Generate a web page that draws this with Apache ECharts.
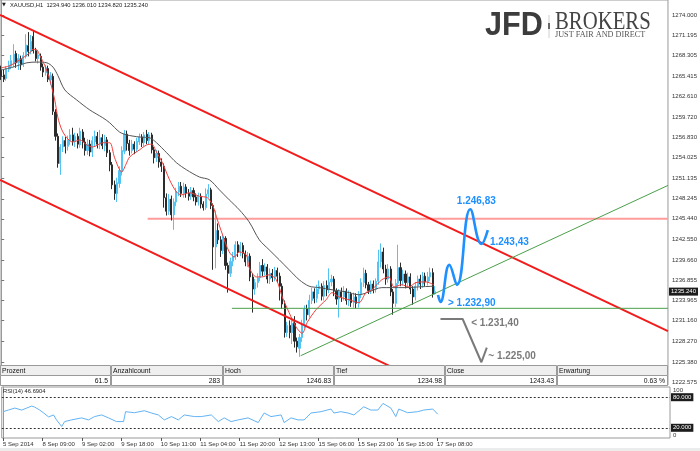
<!DOCTYPE html>
<html><head><meta charset="utf-8">
<script src="https://cdn.jsdelivr.net/npm/echarts@6/dist/echarts.min.js"></script>
<style>html,body{margin:0;padding:0;background:#fff}#c{width:700px;height:451px}</style>
</head><body><div id="c"></div>
<script>
// ---------------- DATA ----------------
const symbolName = 'XAUUSD,H1';
const opens = [
1266.3,1265.6,1265.1,1266.4,1266.8,1267.2,1268.6,1267.3,1267.8,1267.0,
1268.2,1269.7,1268.9,1271.0,1269.0,1267.9,1268.2,1266.7,1265.9,1266.5,
1264.9,1265.4,1260.4,1257.0,1253.2,1255.5,1256.4,1255.6,1256.4,1257.2,
1256.3,1257.0,1255.8,1257.6,1256.2,1255.0,1255.9,1254.8,1256.2,1257.0,
1255.9,1256.8,1255.7,1256.5,1254.7,1253.0,1250.2,1249.0,1250.4,1252.1,
1254.9,1257.3,1256.0,1255.0,1255.9,1255.2,1256.2,1256.9,1256.1,1257.3,
1256.4,1257.2,1255.1,1254.0,1254.6,1253.4,1252.8,1248.4,1246.5,1248.2,
1246.0,1247.8,1249.2,1250.0,1249.0,1249.9,1249.0,1248.6,1249.4,1248.5,
1247.8,1248.6,1247.5,1247.0,1248.9,1249.5,1247.3,1241.5,1243.8,1242.5,
1241.0,1242.7,1238.9,1237.8,1239.5,1240.1,1241.8,1240.8,1241.7,1240.6,
1239.4,1240.2,1237.3,1235.6,1236.5,1237.2,1238.9,1238.1,1238.7,1237.0,
1237.8,1237.2,1238.2,1237.4,1236.0,1233.5,1229.5,1230.5,1229.5,1230.8,
1228.3,1227.3,1228.8,1230.6,1232.8,1232.0,1234.0,1235.2,1234.3,1235.6,
1236.0,1234.6,1236.1,1235.5,1236.6,1237.0,1235.3,1234.2,1235.2,1234.5,
1235.3,1234.0,1234.9,1233.7,1234.5,1233.6,1234.8,1236.5,1237.8,1236.2,
1235.4,1236.3,1235.6,1236.7,1239.4,1240.8,1238.4,1237.0,1238.4,1235.2,
1233.6,1236.4,1238.6,1236.8,1237.7,1236.5,1237.3,1235.6,1234.5,1236.0,
1237.0,1236.3,1237.4,1236.6,1237.3,1237.9,1234.94];
const closes = [
1265.4,1265.0,1266.4,1267.0,1267.6,1268.5,1267.3,1267.9,1267.0,1268.3,
1269.8,1268.9,1270.3,1269.0,1267.9,1268.4,1266.7,1266.0,1266.6,1265.0,
1265.5,1260.5,1257.0,1253.2,1255.5,1256.4,1255.6,1256.5,1257.2,1256.3,
1257.0,1255.9,1257.7,1256.2,1255.0,1255.9,1254.8,1256.4,1257.0,1255.9,
1256.8,1255.7,1256.5,1254.7,1253.0,1250.2,1249.0,1250.5,1252.2,1255.0,
1257.3,1256.0,1255.0,1255.9,1255.2,1256.3,1256.9,1256.1,1257.2,1256.4,
1257.2,1255.1,1254.0,1254.6,1253.4,1252.8,1248.4,1246.5,1248.2,1246.0,
1247.8,1249.3,1250.0,1249.0,1249.9,1249.0,1248.6,1249.4,1248.5,1247.8,
1248.6,1247.5,1247.0,1248.9,1249.5,1247.3,1241.5,1243.8,1242.5,1241.0,
1242.7,1238.9,1237.8,1239.5,1240.2,1241.8,1240.8,1241.7,1240.6,1239.4,
1240.2,1237.3,1235.6,1236.5,1237.2,1238.9,1238.1,1238.7,1237.0,1237.8,
1237.2,1238.2,1237.4,1236.0,1233.5,1229.5,1230.5,1229.5,1230.8,1228.3,
1227.5,1228.8,1230.7,1232.8,1232.0,1234.0,1235.2,1234.3,1235.6,1236.0,
1234.6,1236.1,1235.5,1236.6,1237.0,1235.3,1234.2,1235.2,1234.5,1235.3,
1234.0,1234.9,1233.7,1234.5,1233.6,1234.8,1236.5,1237.8,1236.2,1235.4,
1236.3,1235.6,1236.7,1239.4,1240.8,1238.4,1237.0,1238.4,1235.2,1233.6,
1236.4,1238.6,1236.8,1237.7,1236.5,1237.3,1235.6,1234.5,1236.0,1237.0,
1236.3,1237.4,1236.6,1237.3,1237.9,1234.9,1235.24];
const lows = [
1264.9,1264.6,1264.8,1266.0,1266.4,1266.7,1266.6,1266.3,1266.3,1266.7,
1267.9,1268.2,1268.5,1268.6,1267.5,1267.2,1266.2,1265.3,1265.5,1264.6,
1264.2,1260.0,1256.4,1252.6,1251.6,1254.8,1254.6,1255.0,1255.8,1255.7,
1255.5,1255.3,1255.4,1255.3,1254.3,1254.4,1254.2,1254.1,1255.6,1255.3,
1255.2,1255.2,1254.9,1254.1,1252.1,1249.6,1248.1,1247.8,1249.8,1251.5,
1254.5,1255.0,1254.3,1254.6,1254.5,1254.8,1255.8,1255.5,1255.6,1255.9,
1255.9,1254.6,1253.2,1253.4,1252.6,1252.0,1247.0,1245.9,1246.0,1245.2,
1243.9,1247.2,1248.6,1248.5,1248.4,1248.4,1248.0,1248.1,1247.9,1247.3,
1247.3,1246.9,1246.6,1246.7,1248.4,1246.8,1238.3,1238.5,1241.9,1240.1,
1240.5,1238.3,1235.1,1237.3,1238.8,1239.7,1240.1,1240.2,1239.9,1238.8,
1238.7,1236.7,1232.3,1234.8,1235.8,1236.7,1237.4,1237.5,1236.4,1236.3,
1236.6,1236.7,1236.5,1234.0,1232.8,1228.8,1228.9,1228.7,1227.9,1227.4,
1226.7,1226.1,1228.2,1230.1,1231.2,1231.6,1233.5,1233.6,1233.7,1234.9,
1234.0,1234.0,1234.6,1235.0,1236.0,1234.6,1233.4,1231.6,1233.8,1234.0,
1233.4,1233.2,1233.1,1233.0,1232.9,1233.0,1234.3,1235.9,1235.7,1234.9,
1234.9,1235.0,1235.1,1236.2,1238.6,1237.8,1236.2,1236.5,1234.6,1232.0,
1233.1,1235.9,1236.0,1236.1,1235.7,1235.9,1234.9,1233.4,1234.0,1235.4,
1235.6,1235.8,1236.0,1236.1,1236.7,1234.4,1234.82];
const highs = [
1266.9,1266.3,1266.8,1267.6,1268.4,1269.9,1269.0,1268.5,1268.3,1268.8,
1271.3,1271.6,1271.2,1271.8,1269.4,1268.9,1268.6,1267.2,1267.0,1266.9,
1266.0,1265.8,1260.8,1257.4,1255.9,1257.0,1256.9,1257.1,1258.0,1258.2,
1257.5,1257.4,1258.2,1258.0,1256.8,1256.6,1256.5,1257.0,1257.8,1257.6,
1257.9,1257.3,1257.2,1256.9,1255.1,1253.4,1250.8,1251.2,1252.8,1255.6,
1257.9,1257.8,1256.5,1256.5,1256.3,1256.8,1257.4,1257.3,1257.6,1257.9,
1257.6,1257.5,1255.5,1255.1,1255.0,1253.9,1253.2,1249.0,1248.9,1248.7,
1248.3,1249.8,1250.6,1250.6,1250.5,1250.3,1249.6,1249.9,1249.8,1249.0,
1249.1,1249.0,1247.9,1249.7,1250.3,1249.8,1247.6,1246.6,1244.8,1243.0,
1243.2,1243.0,1239.3,1240.0,1240.8,1242.3,1242.3,1242.2,1242.1,1241.0,
1240.8,1240.6,1237.8,1237.0,1237.8,1239.4,1239.8,1239.2,1239.1,1238.5,
1238.4,1238.7,1238.6,1237.9,1236.4,1234.0,1231.0,1231.2,1231.6,1231.8,
1228.8,1229.3,1231.3,1233.3,1233.4,1234.8,1235.8,1235.7,1236.2,1236.8,
1236.4,1236.7,1236.8,1238.5,1237.6,1237.4,1235.7,1235.6,1235.8,1236.0,
1235.7,1235.4,1235.2,1235.1,1235.0,1235.3,1237.1,1238.6,1238.3,1236.6,
1236.8,1236.8,1237.1,1241.1,1242.0,1241.4,1239.0,1239.1,1238.8,1235.6,
1237.0,1241.8,1239.3,1238.3,1238.2,1237.9,1237.8,1236.0,1236.6,1237.5,
1237.6,1238.0,1237.9,1238.0,1238.6,1238.5,1236.01];

// moving averages: [bar index, price]
const maFast = [[0,1266.6],[3.5,1266.9],[8.8,1268.0],[11.6,1268.7],[12.9,1269.2],[14.5,1269.1],[15.7,1268.3],[17.7,1266.9],[19.7,1264.9],[21.7,1262.1],[23,1259.6],[24.6,1257.9],[26.6,1256.8],[29,1256.2],[31.9,1256.5],[34.7,1255.8],[37.1,1255.5],[41.2,1256.1],[44,1256.1],[46,1254.0],[48.9,1252.0],[50.5,1253.0],[52.1,1254.1],[56.1,1255.1],[59,1255.8],[61,1255.9],[63,1254.8],[65.4,1253.3],[68.3,1250.9],[71.1,1249.2],[73.1,1248.8],[76.4,1249.1],[80.4,1248.6],[83.6,1248.4],[85.7,1247.4],[87.7,1245.3],[89.7,1243.3],[92.5,1240.8],[94.6,1240.1],[96.6,1240.8],[99.4,1240.4],[100.6,1238.6],[103.5,1237.3],[105.9,1237.3],[108.7,1237.6],[111.6,1236.9],[114,1234.5],[116.8,1232.3],[119.6,1230.3],[122.1,1229.4],[124.1,1230.9],[127.7,1232.7],[131.8,1234.1],[134.2,1235.1],[137,1234.5],[141.1,1234.1],[145.1,1233.7],[148,1235.1],[150.4,1235.5],[154.4,1236.9],[157.3,1237.3],[159.3,1235.9],[162.5,1236.2],[165.4,1235.9],[168.2,1236.5],[172.2,1236.6],[175.5,1236.2]];
const maSlow = [[0,1266.3],[4.8,1266.7],[10.4,1267.3],[14.5,1267.4],[18.5,1267.3],[21,1266.7],[23,1265.5],[25.8,1263.5],[30.6,1262.1],[35.9,1260.7],[41.2,1259.6],[44,1258.9],[48,1257.6],[50.9,1257.2],[56.1,1256.9],[60.2,1256.8],[63,1256.1],[67.1,1254.7],[71.1,1253.3],[75.2,1252.3],[80.4,1251.3],[84.5,1250.9],[88.5,1249.5],[92.5,1248.1],[96.6,1246.7],[100.6,1245.0],[104.7,1242.5],[108.7,1241.1],[112.8,1239.7],[116.8,1238.3],[120.9,1236.9],[124.9,1236.0],[129,1235.8],[134.2,1235.5],[139.9,1235.2],[145.1,1234.8],[149.2,1235.2],[154.4,1235.8],[158.5,1235.8],[164.1,1235.8],[169.4,1235.9],[175.5,1236.0]];

// drawn objects: [bar index, price]
const channelUpper = [[-0.5,1274.0],[270.5,1229.7]];
const channelLower = [[-0.5,1250.9],[161.3,1224.2]];
const resistanceLine = [[59.4,1245.44],[270.5,1245.44]];
const supportLine = [[93.6,1232.90],[270.5,1232.90]];
const trendUp = [[121.5,1226.26],[270.5,1250.12]];
const bluePath = [[177.2,1234.77],[178.2,1233.79],[181.8,1238.98],[184.9,1236.18],[190.3,1246.78],[194.8,1241.91],[197.4,1243.87]];
const blueTexts = {1:'> 1.232,90', 4:'1.246,83', 5:'1.243,43'};
const grayPath = [[178.2,1231.40],[187.2,1231.40],[194.8,1225.34],[197.0,1227.38]];
const grayTexts = {1:'< 1.231,40', 3:'~ 1.225,00'};

// RSI(14): [bar index, value]
const rsiPeriod = 14;
const rsiLast = 46.6904;
const rsiLevels = [80, 20];
const rsiPoints = [[0,51.6],[2.2,54.8],[4.8,58.7],[7.6,54.8],[9.6,58.7],[11.6,62.6],[12.8,60.7],[14.9,54.8],[16.5,49],[18.5,41.3],[20.5,45.2],[21.7,35.5],[23.8,22.6],[25,32.2],[27.8,35.5],[31.9,39.4],[34.7,35.5],[37.1,42],[40,45.2],[42.8,39.4],[46,32.2],[48.9,32.2],[49.7,51.6],[53.3,49.6],[57.3,53.5],[60.2,49],[63,45.2],[65.4,35.5],[68.3,42],[71.1,35.5],[73.5,45.2],[77.6,42],[80.4,42],[84.5,45.2],[87.3,32.2],[89.7,39.4],[92.5,32.2],[95.4,35.5],[99.4,39.4],[103.5,30.3],[105.9,49],[108.7,42],[112.8,45.2],[114,30.3],[116.8,39.4],[119.6,35.5],[122.1,35.5],[124.9,49],[129,51.6],[133,56.8],[134.2,49],[137,51.6],[139.9,49],[142.3,45.2],[146.3,61.2],[149.2,54.8],[152,54.8],[154.1,67.8],[157.3,58.7],[159.3,42],[160.5,56.8],[164.1,49.6],[168.2,51.6],[170.6,54.8],[174.3,56.8],[176.3,46.7]];

// axes
const slotCount = 271;           // bar slots across the chart width
const priceMax = 1276.10, priceMin = 1222.155;
const priceTicks = [1274.000,1271.195,1268.305,1265.415,1262.610,1259.720,1256.830,1254.025,1251.135,1248.245,1245.440,1242.550,1239.660,1236.855,1233.965,1231.160,1228.270,1225.380,1222.575];
const timeLabels = ['5 Sep 2014','8 Sep 09:00','9 Sep 02:00','9 Sep 18:00','10 Sep 11:00','11 Sep 04:00','11 Sep 20:00','12 Sep 13:00','15 Sep 06:00','15 Sep 23:00','16 Sep 15:00','17 Sep 08:00'];
const labelEvery = 16;

// table
const tableHeaders = ['Prozent','Anzahlcount','Hoch','Tief','Close','Erwartung'];
const tableValues = ['61.5','283','1246.83','1234.98','1243.43','0.63 %'];

// ---------------- CHART ----------------
const FONT = '"Liberation Sans", Arial, sans-serif';
const bull = '#52c3f3', bear = '#2b2b2b';
const slots = Array.from({length: slotCount}, (_, i) => String(i));
const last = opens.length - 1;
const candleData = opens.map((o, i) => [o, closes[i], lows[i], highs[i]]);
const showTime = (idx) => idx % labelEvery === 0 && idx / labelEvery < timeLabels.length;

function lineSeries(data, color, width, extra) {
  return Object.assign({
    type: 'line', xAxisIndex: 1, yAxisIndex: 0, data: data,
    symbol: 'none', silent: true, z: 5,
    lineStyle: {color: color, width: width}
  }, extra || {});
}
function labelled(path, texts, color, cfg) {
  return path.map((p, k) => {
    if (texts[k] === undefined) return {value: p};
    return {value: p, symbol: 'circle', symbolSize: 1, itemStyle: {color: 'rgba(0,0,0,0)'},
      label: Object.assign({show: true, formatter: texts[k], color: color, fontSize: 10, fontWeight: 'bold', fontFamily: FONT}, cfg[k])};
  });
}

const blueData = labelled(bluePath, blueTexts, '#1e90ff', {
  1: {position: 'right', distance: 7, offset: [0, 1]},
  4: {position: 'top', distance: 3, offset: [6, 0]},
  5: {position: 'right', distance: 8, offset: [0, -2]}
});
const grayData = labelled(grayPath, grayTexts, '#7a7a7a', {
  1: {position: 'right', distance: 8, offset: [0, 4]},
  3: {position: 'right', distance: 1, offset: [0, 9]}
});

const graphics = [];
graphics.push({type: 'rect', shape: {x: 0, y: 448, width: 700, height: 3}, style: {fill: '#ececec'}, z: 1});
// header
graphics.push({type: 'text', x: 2, y: 5, style: {text: '▼', font: '5px "DejaVu Sans"', fill: '#222', verticalAlign: 'middle'}, z: 100});
graphics.push({type: 'text', x: 10, y: 5, style: {
  text: symbolName + '  ' + [opens[last], highs[last], lows[last], closes[last]].map(v => v.toFixed(3)).join(' '),
  font: '5.8px ' + FONT, fill: '#222', verticalAlign: 'middle'}, z: 100});
// logo
graphics.push({type: 'text', x: 485, y: 26, scaleX: 0.9, style: {text: 'JFD', font: 'bold 34px ' + FONT, fill: '#3c3c3c', verticalAlign: 'middle'}, z: 100});
graphics.push({type: 'rect', shape: {x: 548.5, y: 15, width: 1, height: 23}, style: {fill: '#d0d0d0'}, z: 100});
graphics.push({type: 'rect', shape: {x: 548, y: 23, width: 2, height: 6}, style: {fill: '#666'}, z: 100});
graphics.push({type: 'text', x: 555, y: 22, scaleX: 0.83, style: {text: 'BROKERS', font: '25px "Liberation Serif", serif', fill: '#444', verticalAlign: 'middle'}, z: 100});
graphics.push({type: 'text', x: 555, y: 35, style: {text: 'JUST FAIR AND DIRECT', font: '8.2px "Liberation Serif", serif', fill: '#555', verticalAlign: 'middle'}, z: 100});
// table
const colW = 668 / tableHeaders.length;
tableHeaders.forEach((h, k) => {
  const x0 = Math.round(k * colW), x1 = Math.round((k + 1) * colW);
  graphics.push({type: 'rect', shape: {x: x0 + 0.5, y: 365.5, width: x1 - x0 - 1, height: 10}, style: {fill: '#efefef', stroke: '#9a9a9a', lineWidth: 1}, z: 100});
  graphics.push({type: 'text', x: x0 + 2, y: 370.8, style: {text: h, font: '6.8px ' + FONT, fill: '#111', verticalAlign: 'middle'}, z: 101});
  graphics.push({type: 'rect', shape: {x: x0 + 0.5, y: 375.5, width: x1 - x0 - 1, height: 10}, style: {fill: '#ffffff', stroke: '#9a9a9a', lineWidth: 1}, z: 100});
  graphics.push({type: 'text', x: x1 - 3, y: 380.8, style: {text: tableValues[k], font: '6.8px ' + FONT, fill: '#111', align: 'right', verticalAlign: 'middle'}, z: 101});
});
// RSI label
graphics.push({type: 'text', x: 3, y: 391.5, style: {text: 'RSI(' + rsiPeriod + ') ' + rsiLast.toFixed(4), font: '5.8px ' + FONT, fill: '#222', verticalAlign: 'middle'}, z: 100});

const boxLabel = (txt) => ({show: true, position: 'end', distance: 1, formatter: txt, backgroundColor: '#1c1c1c', color: '#fff', fontSize: 6, fontFamily: FONT, padding: [1, 2, 1, 2]});

const option = {
  animation: false,
  backgroundColor: '#ffffff',
  textStyle: {fontFamily: FONT},
  grid: [
    {left: 0, top: 0, width: 670, height: 385, show: true, borderColor: '#9a9a9a', borderWidth: 1},
    {left: 0, top: 387, width: 670, height: 51, show: true, borderColor: '#9a9a9a', borderWidth: 1}
  ],
  xAxis: [
    {type: 'category', gridIndex: 0, data: slots, boundaryGap: true, show: false},
    {type: 'value', gridIndex: 0, min: -0.5, max: slotCount - 0.5, show: false},
    {type: 'category', gridIndex: 1, data: slots, boundaryGap: true,
      axisLine: {show: false}, splitLine: {show: false},
      axisTick: {show: true, interval: showTime, alignWithLabel: true, length: 3, lineStyle: {color: '#555'}},
      axisLabel: {interval: showTime, formatter: (v, idx) => timeLabels[Math.round(idx / labelEvery)] || '', align: 'left', fontSize: 6, color: '#333', margin: 3, fontFamily: FONT}},
    {type: 'value', gridIndex: 1, min: -0.5, max: slotCount - 0.5, show: false}
  ],
  yAxis: [
    {type: 'value', gridIndex: 0, position: 'right', min: priceMin, max: priceMax, splitLine: {show: false},
      axisLine: {show: true, lineStyle: {color: '#999', width: 1}},
      axisTick: {show: true, customValues: priceTicks, length: 3, lineStyle: {color: '#777'}},
      axisLabel: {customValues: priceTicks, formatter: v => v.toFixed(3), fontSize: 6, color: '#333', margin: 4, fontFamily: FONT}},
    {type: 'value', gridIndex: 1, position: 'right', min: 0, max: 100, splitLine: {show: false},
      axisLine: {show: true, lineStyle: {color: '#999', width: 1}},
      axisTick: {show: false},
      axisLabel: {customValues: [0, 100], fontSize: 6, color: '#333', margin: 3, fontFamily: FONT,
        verticalAlignMinLabel: 'bottom', verticalAlignMaxLabel: 'top'}}
  ],
  series: [
    lineSeries(resistanceLine, '#ff9c9c', 2, {z: 2}),
    {type: 'candlestick', xAxisIndex: 0, yAxisIndex: 0, data: candleData, barWidth: 1.6, z: 3, silent: true,
      itemStyle: {color: bull, color0: bear, borderColor: bull, borderColor0: bear, borderWidth: 1}},
    lineSeries(maSlow, '#555555', 1, {smooth: 0.3}),
    lineSeries(maFast, '#f0403c', 1, {smooth: 0.3}),
    lineSeries(channelUpper, '#f21c1c', 2),
    lineSeries(channelLower, '#f21c1c', 2),
    lineSeries(supportLine, '#4aa04a', 1),
    lineSeries(trendUp, '#4aa04a', 1),
    lineSeries(bluePath, '#1e90ff', 2.6, {smooth: 0.45, z: 6, data: blueData}),
    lineSeries(grayPath, '#7a7a7a', 2, {z: 6, data: grayData}),
    {type: 'line', xAxisIndex: 3, yAxisIndex: 1, data: rsiPoints, symbol: 'none', silent: true, z: 5,
      lineStyle: {color: '#63b3f5', width: 1},
      markLine: {silent: true, symbol: 'none', lineStyle: {color: '#333', width: 1, type: [2, 2]},
        data: rsiLevels.map(l => ({yAxis: l, label: boxLabel(l.toFixed(3))}))}},
    // current price marker on the price axis
    {type: 'line', xAxisIndex: 1, yAxisIndex: 0, data: [], silent: true,
      markLine: {silent: true, symbol: 'none', lineStyle: {color: 'rgba(0,0,0,0)', width: 1},
        data: [{yAxis: closes[last], label: boxLabel(closes[last].toFixed(3))}]}}
  ],
  graphic: graphics
};

const chart = echarts.init(document.getElementById('c'), null, {renderer: 'canvas', width: 700, height: 451});
chart.setOption(option);
</script>
</body></html>
